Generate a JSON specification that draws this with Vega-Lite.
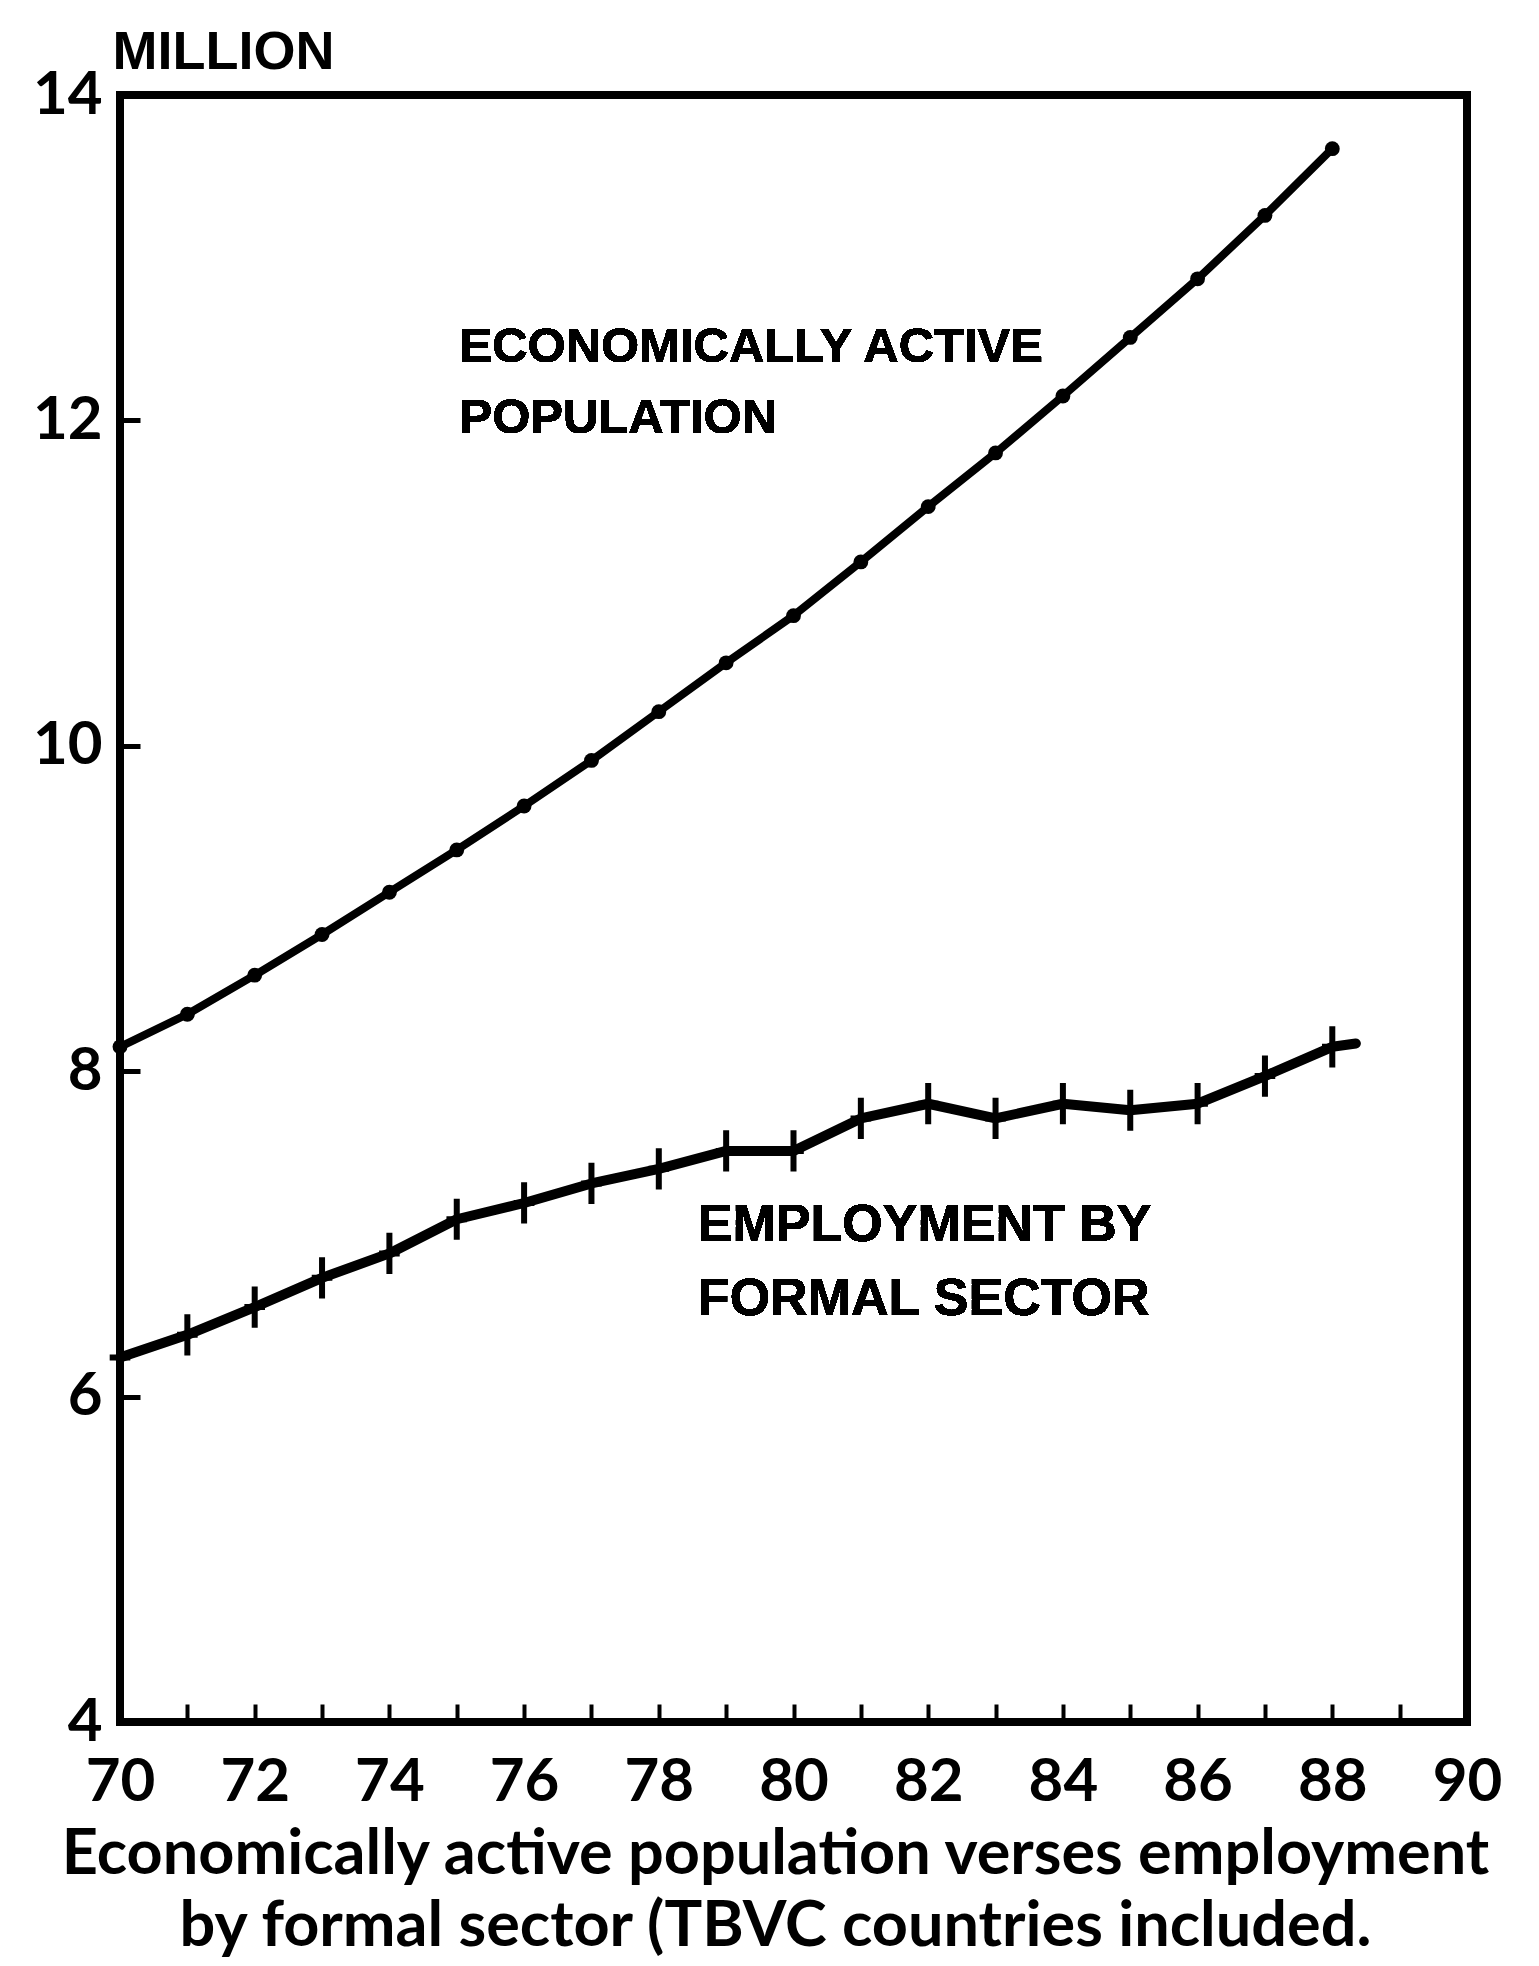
{
  "$schema": "https://vega.github.io/schema/vega-lite/v6.json",
  "width": 1347,
  "height": 1627,
  "autosize": "none",
  "padding": {"left": 120, "top": 95, "right": 72, "bottom": 244},
  "background": "white",
  "config": {
    "view": {"stroke": "black", "strokeWidth": 8},
    "font": "Lato"
  },
  "title": {
    "text": ["Economically active population verses employment", "by formal sector (TBVC countries included."],
    "orient": "bottom",
    "anchor": "middle",
    "font": "Lato",
    "fontSize": 63,
    "fontWeight": "bold",
    "color": "black",
    "lineHeight": 72,
    "offset": 12,
    "dx": -18
  },
  "data": {
    "values": [
      {"series": "active", "year": 70, "value": 8.15},
      {"series": "active", "year": 71, "value": 8.35},
      {"series": "active", "year": 72, "value": 8.59},
      {"series": "active", "year": 73, "value": 8.84},
      {"series": "active", "year": 74, "value": 9.10},
      {"series": "active", "year": 75, "value": 9.36},
      {"series": "active", "year": 76, "value": 9.63},
      {"series": "active", "year": 77, "value": 9.91},
      {"series": "active", "year": 78, "value": 10.21},
      {"series": "active", "year": 79, "value": 10.51},
      {"series": "active", "year": 80, "value": 10.80},
      {"series": "active", "year": 81, "value": 11.13},
      {"series": "active", "year": 82, "value": 11.47},
      {"series": "active", "year": 83, "value": 11.80},
      {"series": "active", "year": 84, "value": 12.15},
      {"series": "active", "year": 85, "value": 12.51},
      {"series": "active", "year": 86, "value": 12.87},
      {"series": "active", "year": 87, "value": 13.26},
      {"series": "active", "year": 88, "value": 13.67},
      {"series": "employment", "year": 70, "value": 6.24},
      {"series": "employment", "year": 71, "value": 6.38},
      {"series": "employment", "year": 72, "value": 6.55},
      {"series": "employment", "year": 73, "value": 6.73},
      {"series": "employment", "year": 74, "value": 6.88},
      {"series": "employment", "year": 75, "value": 7.09},
      {"series": "employment", "year": 76, "value": 7.19},
      {"series": "employment", "year": 77, "value": 7.31},
      {"series": "employment", "year": 78, "value": 7.40},
      {"series": "employment", "year": 79, "value": 7.51},
      {"series": "employment", "year": 80, "value": 7.51},
      {"series": "employment", "year": 81, "value": 7.71},
      {"series": "employment", "year": 82, "value": 7.80},
      {"series": "employment", "year": 83, "value": 7.71},
      {"series": "employment", "year": 84, "value": 7.80},
      {"series": "employment", "year": 85, "value": 7.76},
      {"series": "employment", "year": 86, "value": 7.80},
      {"series": "employment", "year": 87, "value": 7.97},
      {"series": "employment", "year": 88, "value": 8.15},
      {"series": "employment", "year": 88.35, "value": 8.17}
    ]
  },
  "encoding": {
    "x": {
      "field": "year",
      "type": "quantitative",
      "scale": {"domain": [70, 90], "nice": false, "zero": false},
      "axis": {
        "title": null,
        "grid": false,
        "domain": false,
        "values": [70, 71, 72, 73, 74, 75, 76, 77, 78, 79, 80, 81, 82, 83, 84, 85, 86, 87, 88, 89, 90],
        "labelExpr": "datum.value % 2 == 0 ? datum.label : ''",
        "tickSize": -18,
        "tickWidth": 4,
        "tickColor": "black",
        "labelPadding": 49,
        "labelFont": "Lato",
        "labelFontSize": 60,
        "labelFontWeight": "bold",
        "labelColor": "black",
        "labelFlush": false,
        "labelOverlap": false
      }
    },
    "y": {
      "field": "value",
      "type": "quantitative",
      "scale": {"domain": [4, 14], "nice": false, "zero": false},
      "axis": {
        "title": "MILLION",
        "titleAngle": 0,
        "titleAlign": "left",
        "titleBaseline": "alphabetic",
        "titleX": -8,
        "titleY": -27,
        "titleFont": "Liberation Sans",
        "titleFontSize": 54,
        "titleFontWeight": "bold",
        "titleColor": "black",
        "grid": false,
        "domain": false,
        "values": [4, 6, 8, 10, 12, 14],
        "tickSize": -20,
        "tickWidth": 5,
        "tickColor": "black",
        "labelPadding": 38,
        "labelFont": "Lato",
        "labelFontSize": 60,
        "labelFontWeight": "bold",
        "labelColor": "black",
        "labelFlush": false,
        "labelOverlap": false
      }
    }
  },
  "layer": [
    {
      "transform": [{"filter": "datum.series == 'active'"}],
      "mark": {"type": "line", "color": "black", "strokeWidth": 8, "strokeCap": "round", "strokeJoin": "round"}
    },
    {
      "transform": [{"filter": "datum.series == 'employment'"}],
      "mark": {"type": "line", "color": "black", "strokeWidth": 10, "strokeCap": "round", "strokeJoin": "round"}
    },
    {
      "transform": [{"filter": "datum.series == 'active'"}],
      "mark": {"type": "point", "shape": "circle", "filled": true, "color": "black", "size": 220, "opacity": 1}
    },
    {
      "transform": [{"filter": "datum.series == 'employment' && datum.year <= 88"}],
      "mark": {"type": "point", "shape": "M0,-1L0,1M-0.5,0L0.5,0", "filled": false, "color": "black", "strokeWidth": 6, "size": 1700, "opacity": 1}
    },
    {
      "mark": {"type": "text", "align": "left", "baseline": "top", "font": "Liberation Sans", "fontSize": 49, "fontWeight": "bold", "color": "black", "lineHeight": 71},
      "encoding": {
        "x": {"datum": 75.04},
        "y": {"datum": 12.6},
        "text": {"value": ["ECONOMICALLY ACTIVE", "POPULATION"]}
      }
    },
    {
      "mark": {"type": "text", "align": "left", "baseline": "top", "font": "Liberation Sans", "fontSize": 52, "fontWeight": "bold", "color": "black", "lineHeight": 74},
      "encoding": {
        "x": {"datum": 78.58},
        "y": {"datum": 7.21},
        "text": {"value": ["EMPLOYMENT BY", "FORMAL SECTOR"]}
      }
    }
  ]
}
